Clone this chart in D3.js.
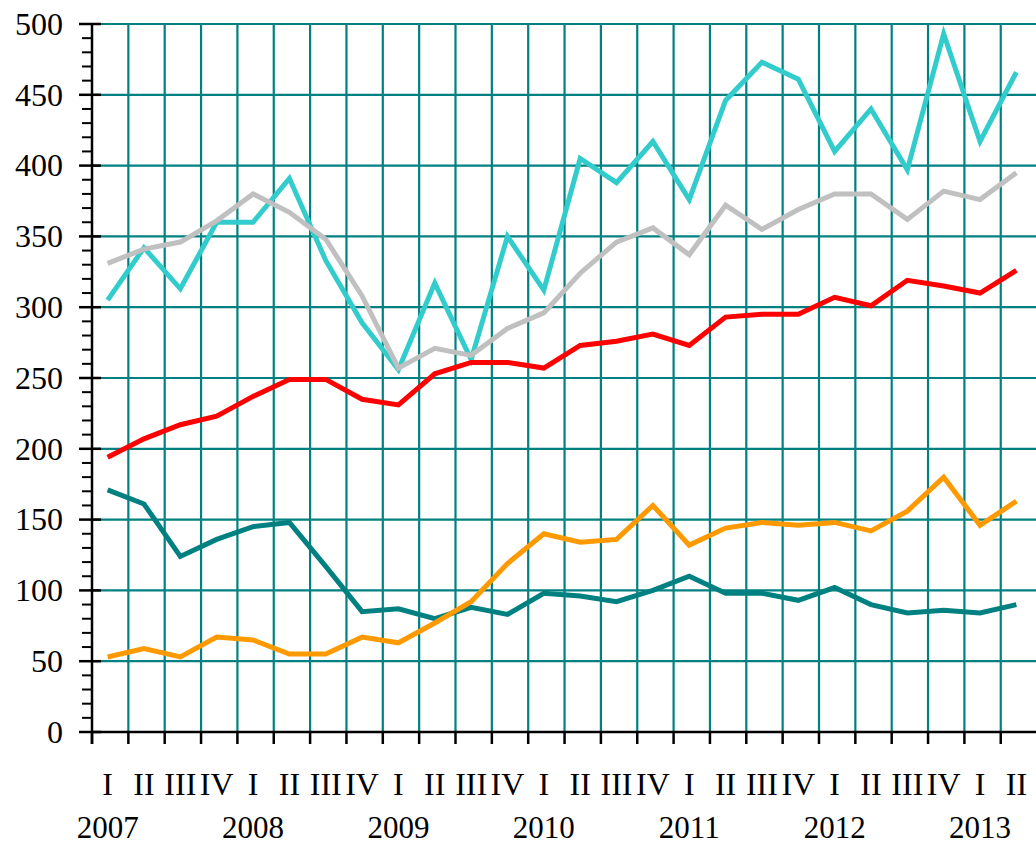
<!DOCTYPE html>
<html>
<head>
<meta charset="utf-8">
<script src="https://cdn.jsdelivr.net/npm/d3@7"></script>
<style>
  body { margin: 0; background: #fff; }
  svg { display: block; font-family: 'Liberation Serif', 'Times New Roman', serif; }
</style>
</head>
<body>
<div id="chart"></div>
<script>
const quarterNames = ['I', 'II', 'III', 'IV'];
const years = ['2007', '2008', '2009', '2010', '2011', '2012', '2013'];
const quarterCount = 26;

const cyanSeries = [305, 342, 313, 360, 360, 391, 333, 289, 256, 317, 263, 350, 312, 405, 388, 417, 376, 446, 473, 461, 410, 440, 397, 493, 417, 466];
const greySeries = [331, 341, 346, 361, 380, 367, 348, 308, 257, 271, 266, 285, 296, 324, 346, 356, 337, 372, 355, 369, 380, 380, 362, 382, 376, 395];
const redSeries = [194, 207, 217, 223, 237, 249, 249, 235, 231, 253, 261, 261, 257, 273, 276, 281, 273, 293, 295, 295, 307, 301, 319, 315, 310, 326];
const tealSeries = [171, 161, 124, 136, 145, 148, 117, 85, 87, 80, 88, 83, 98, 96, 92, 100, 110, 98, 98, 93, 102, 90, 84, 86, 84, 90];
const orangeSeries = [53, 59, 53, 67, 65, 55, 55, 67, 63, 77, 92, 119, 140, 134, 136, 160, 132, 144, 148, 146, 148, 142, 156, 180, 146, 163];

const series = [
  { values: cyanSeries, colour: '#33cccc' },
  { values: greySeries, colour: '#c0c0c0' },
  { values: redSeries, colour: '#ff0000' },
  { values: tealSeries, colour: '#008080' },
  { values: orangeSeries, colour: '#ff9900' },
];

const width = 1036;
const height = 844;
const plotLeft = 92;
const plotTop = 24;
const plotBottom = 732;
const step = 36.35;

const quarters = d3.range(quarterCount);

const x = d3.scaleBand()
    .domain(quarters)
    .range([plotLeft, plotLeft + step * quarterCount])
    .padding(0);

// points sit a little left of the band centre in the original
const px = i => x(i) + x.bandwidth() * 0.43;

const y = d3.scaleLinear()
    .domain([0, 500])
    .range([plotBottom, plotTop]);

const svg = d3.select('#chart').append('svg')
    .attr('width', width)
    .attr('height', height);

const gridColour = '#008080';

// horizontal grid
svg.append('g')
  .selectAll('line')
    .data(y.ticks(10).filter(d => d > 0))
  .enter().append('line')
    .attr('x1', plotLeft)
    .attr('x2', width)
    .attr('y1', d => y(d))
    .attr('y2', d => y(d))
    .attr('stroke', gridColour)
    .attr('stroke-width', 2.2);

// vertical grid
svg.append('g')
  .selectAll('line')
    .data(quarters.slice(1))
  .enter().append('line')
    .attr('x1', d => x(d))
    .attr('x2', d => x(d))
    .attr('y1', plotTop)
    .attr('y2', plotBottom)
    .attr('stroke', gridColour)
    .attr('stroke-width', 2.2);

// y axis
const yAxis = svg.append('g');
yAxis.append('line')
    .attr('x1', plotLeft).attr('x2', plotLeft)
    .attr('y1', plotTop - 1).attr('y2', plotBottom + 12)
    .attr('stroke', '#000')
    .attr('stroke-width', 2.5);

yAxis.selectAll('.minor')
    .data(d3.range(0, 501, 10).filter(d => d % 50 !== 0))
  .enter().append('line')
    .attr('x1', plotLeft - 10).attr('x2', plotLeft)
    .attr('y1', d => y(d)).attr('y2', d => y(d))
    .attr('stroke', '#000')
    .attr('stroke-width', 2);

yAxis.selectAll('.major')
    .data(y.ticks(10))
  .enter().append('line')
    .attr('x1', plotLeft - 13).attr('x2', plotLeft + 9)
    .attr('y1', d => y(d)).attr('y2', d => y(d))
    .attr('stroke', '#000')
    .attr('stroke-width', 2.5);

yAxis.selectAll('text')
    .data(y.ticks(10))
  .enter().append('text')
    .attr('x', 63)
    .attr('y', d => y(d))
    .attr('dy', '0.34em')
    .attr('text-anchor', 'end')
    .attr('font-size', 32)
    .text(d => d);

// x axis
const xAxis = svg.append('g');
xAxis.append('line')
    .attr('x1', plotLeft).attr('x2', width)
    .attr('y1', plotBottom).attr('y2', plotBottom)
    .attr('stroke', '#000')
    .attr('stroke-width', 2.5);

xAxis.selectAll('.tick')
    .data(quarters)
  .enter().append('line')
    .attr('x1', d => x(d)).attr('x2', d => x(d))
    .attr('y1', plotBottom).attr('y2', plotBottom + 12)
    .attr('stroke', '#000')
    .attr('stroke-width', 2.5);

xAxis.selectAll('.quarter')
    .data(quarters)
  .enter().append('text')
    .attr('x', d => px(d))
    .attr('y', 795)
    .attr('text-anchor', 'middle')
    .attr('font-size', 32)
    .text(d => quarterNames[d % 4]);

xAxis.selectAll('.year')
    .data(years)
  .enter().append('text')
    .attr('x', (d, i) => px(i * 4))
    .attr('y', 838)
    .attr('text-anchor', 'middle')
    .attr('font-size', 31)
    .text(d => d);

// lines
const line = d3.line()
    .x((d, i) => px(i))
    .y(d => y(d));

svg.append('g')
  .selectAll('path')
    .data(series)
  .enter().append('path')
    .attr('d', d => line(d.values))
    .attr('fill', 'none')
    .attr('stroke', d => d.colour)
    .attr('stroke-width', 5);
</script>
</body>
</html>
